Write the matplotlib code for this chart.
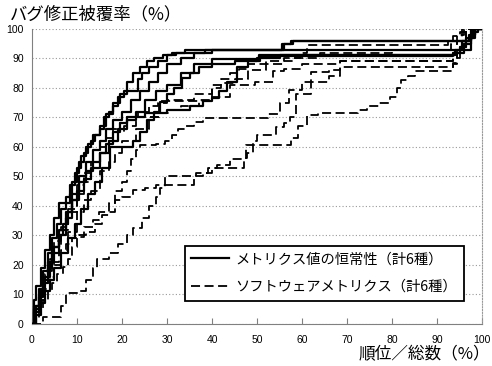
import numpy as np
import matplotlib.pyplot as plt

plt.rcParams['font.family'] = ['Noto Sans CJK JP', 'DejaVu Sans']

# メトリクス値の恒常性 (solid)
s1_x = [0, 0.5, 1, 2, 3, 4, 5, 6, 8.5, 9, 10, 11, 12, 13, 14, 15, 16, 17, 18, 19, 20.5, 23.5, 24.5, 26, 28, 30, 32, 38.5, 55.5, 57.5, 97.5, 98.5, 99.5, 100]
s1_y = [0, 8, 13, 19, 25, 30, 36, 41, 44, 48, 53, 57, 60, 62, 64, 66, 70, 72, 74, 77, 79, 83, 85, 87, 89, 91, 92, 93, 95, 96, 98, 100, 100, 100]
s2_x = [0, 0.5, 1.5, 2.5, 3.5, 4.5, 5.5, 6.5, 7.5, 8.5, 9.5, 10.5, 11.5, 12.5, 13.5, 15, 16.5, 18, 19.5, 21, 22.5, 24, 25.5, 27, 29, 31, 34, 56, 58, 97, 98, 99, 100]
s2_y = [0, 6, 12, 18, 24, 29, 34, 39, 43, 47, 51, 55, 58, 61, 64, 67, 71, 75, 78, 82, 85, 87, 89, 90, 91, 92, 93, 95, 96, 97, 99, 100, 100]
s3_x = [0, 0.5, 1.5, 2.5, 3.5, 4.5, 6, 7.5, 9, 10.5, 12, 13.5, 15, 16.5, 18, 20, 22, 24, 26, 28, 30, 33, 36, 40, 97.5, 98.5, 100]
s3_y = [0, 5, 10, 15, 21, 26, 32, 38, 44, 50, 55, 59, 62, 66, 69, 72, 76, 79, 82, 85, 88, 90, 92, 93, 97, 100, 100]
s4_x = [0, 0.5, 1.5, 2.5, 3.5, 4.5, 6, 7.5, 9, 10.5, 12, 13.5, 15, 17, 19, 21, 23, 25, 27.5, 30, 33, 36, 40, 50.5, 94, 96, 97.5, 100]
s4_y = [0, 4, 9, 14, 19, 24, 30, 36, 42, 48, 52, 55, 58, 62, 66, 69, 72, 76, 79, 81, 85, 88, 89.8, 91, 92, 95, 100, 100]
s5_x = [0, 1, 2, 3, 4, 5, 6, 7, 8, 9, 10, 11.5, 13, 15, 16.5, 18, 19.5, 21, 25, 30, 35, 38, 40, 41.5, 43.3, 45.5, 48, 50.7, 93.5, 95, 96.5, 98, 100]
s5_y = [0, 6, 11, 16, 21, 26, 30, 34, 38, 42, 45, 49, 53, 58, 61, 65, 68, 70.3, 71.4, 72.5, 74, 75.5, 76.5, 79, 82, 87, 89, 90.8, 92, 94, 97, 100, 100]
s6_x = [0, 1, 2, 3, 4, 5, 6.5, 8, 9.5, 11, 12.5, 14, 15.5, 17.3, 22.5, 24, 25.5, 27, 28.5, 30, 31.5, 33.3, 35, 37, 40, 45, 50, 55, 94, 95.5, 97, 98.5, 100]
s6_y = [0, 3, 7, 11, 15, 19, 24, 29, 34, 39, 44, 48, 53, 60, 62, 65, 69, 72, 75.3, 78, 80, 83.2, 85, 87, 88, 89, 90, 91, 93, 96, 98, 100, 100]

# ソフトウェアメトリクス (dashed)
d1_x = [0, 1, 2, 3, 4, 5, 6.5, 8, 10, 11.5, 13, 15, 16.5, 18, 19.5, 21, 23.5, 26, 28, 30, 36, 40, 42, 44, 46, 48, 52, 58, 64, 80, 93, 94.5, 96, 100]
d1_y = [0, 6, 12, 17, 22, 28, 33, 39, 47, 51, 55, 60, 63, 66, 68, 70, 72, 74, 75, 76, 78, 81, 83, 85, 86.5, 88, 89, 90, 92, 93, 95, 98, 100, 100]
d2_x = [0, 1, 2, 3, 4, 5, 6.5, 8, 10, 11.5, 13, 15, 17, 19, 20.5, 23, 28.3, 37.3, 40, 42, 45, 48, 52, 56, 59.5, 61, 92.4, 93.5, 95, 96.5, 100]
d2_y = [0, 5, 10, 15, 20, 26, 32, 38, 44, 48, 53, 58, 62, 65, 67, 70, 75.4, 76, 80, 81.5, 83, 86, 88, 90, 92, 94.6, 96, 97.5, 99, 100, 100]
d3_x = [0, 1, 2, 3, 4, 5, 6.5, 8, 10, 11.5, 13, 15, 17, 18.5, 20, 23, 26, 28.5, 30.5, 33, 37, 40, 44, 49.5, 53.6, 56, 60, 68.4, 93.6, 95, 96.5, 100]
d3_y = [0, 4, 8, 12, 16, 20, 25, 31, 38, 42, 45, 52, 55, 58, 62, 66, 70, 71.5, 72.5, 74, 75.4, 77, 81, 82.1, 85.8, 86.5, 88, 89.2, 90, 94, 100, 100]
d4_x = [0, 0.5, 1.5, 2.5, 3.5, 4.5, 6, 7.5, 9, 10.5, 12, 14, 15.5, 17, 18.5, 20, 21, 22, 23, 24, 27.5, 29.5, 31, 32.5, 34, 36, 38, 44, 52.4, 55, 57, 60, 66, 68.4, 93.5, 94.5, 95.5, 100]
d4_y = [0, 4, 9, 14, 18, 21, 24, 27, 29, 30, 31, 34, 37, 41, 45, 48, 52, 56, 59, 60.5, 61, 62, 64, 66, 67, 68.5, 69.7, 69.7, 71, 75, 79.3, 82.1, 84, 89.2, 92, 96, 100, 100]
d5_x = [0, 0.5, 1.5, 2.5, 3.5, 4.5, 5.5, 7, 8, 9, 10, 11.5, 13.5, 14.8, 18.4, 20, 22.5, 25, 27.5, 36, 38, 40, 47, 47.7, 49, 50, 54.3, 56, 57.3, 58.7, 62, 66, 68.4, 93.5, 94.5, 95.5, 96.5, 100]
d5_y = [0, 2, 5, 8, 11, 14, 17, 19.4, 22, 26, 29.4, 33, 35.3, 38, 42, 43.1, 45.4, 46, 47, 50, 51, 53, 56.2, 58, 62, 64, 66.9, 68, 70, 78, 85.5, 86, 87, 88.4, 92, 96, 100, 100]
d6_x = [0, 2.5, 6.5, 7.5, 10.5, 12, 13.5, 14.5, 17, 19, 21, 22.5, 24.5, 26, 27.5, 28.5, 29.5, 36.5, 39, 41, 44, 47.5, 57.5, 59, 61, 63.5, 72.5, 74.5, 77, 79.5, 81, 82, 83.5, 85, 93.5, 94.5, 96, 97.5, 100]
d6_y = [0, 2.5, 6, 10.5, 11, 15, 19, 22, 24, 27, 30, 32.5, 36, 40, 43, 46, 50, 51, 53, 54, 56, 60.7, 63, 67, 70.8, 71.4, 72.5, 73.7, 75, 77, 80, 82.7, 84, 85.8, 88, 92, 96, 100, 100]

solid = [(s1_x, s1_y), (s2_x, s2_y), (s3_x, s3_y), (s4_x, s4_y), (s5_x, s5_y), (s6_x, s6_y)]
dashed = [(d1_x, d1_y), (d2_x, d2_y), (d3_x, d3_y), (d4_x, d4_y), (d5_x, d5_y), (d6_x, d6_y)]

fig = plt.figure(figsize=(4.92, 3.66), dpi=100)
ax = fig.add_axes([0.065, 0.115, 0.915, 0.806])

for i, (x, y) in enumerate(solid):
    ax.plot(x, y, color='black', lw=1.6, drawstyle='steps-post',
            label='メトリクス値の恒常性（計6種）' if i == 0 else None, zorder=3)
for i, (x, y) in enumerate(dashed):
    ax.plot(x, y, color='black', lw=1.3, drawstyle='steps-post', linestyle=(0, (5, 2.5)),
            label='ソフトウェアメトリクス（計6種）' if i == 0 else None, zorder=3)

ax.set_xlim(0, 100)
ax.set_ylim(0, 100)
ax.set_xticks(np.arange(0, 101, 10))
ax.set_yticks(np.arange(0, 101, 10))
ax.yaxis.grid(True, color='#999999', linestyle=(0, (1, 2)), lw=0.8)
ax.set_axisbelow(True)

for side in ['left', 'bottom']:
    ax.spines[side].set_color('#808080')
ax.spines['top'].set_visible(False)
ax.spines['right'].set_color('#999999')
ax.spines['right'].set_linestyle((0, (1, 1.5)))
ax.tick_params(axis='x', direction='in', length=4, color='#808080', pad=8)
ax.tick_params(axis='y', length=0, pad=6)
for lab in ax.get_xticklabels() + ax.get_yticklabels():
    lab.set_family(['Liberation Sans', 'DejaVu Sans'])
    lab.set_fontsize(7.5)

fig.text(0.02, 0.96, 'バグ修正被覆率（%）', fontsize=12.5, va='center', ha='left')
fig.text(0.996, 0.032, '順位／総数（%）', fontsize=12, va='center', ha='right')

leg = ax.legend(loc='lower right', bbox_to_anchor=(0.975, 0.055), fontsize=10.3,
                frameon=True, fancybox=False, edgecolor='black', framealpha=1,
                handlelength=2.6, handletextpad=0.5, borderpad=0.45, labelspacing=0.95)
leg.get_frame().set_linewidth(1.3)

fig.savefig('out.png', dpi=100)
